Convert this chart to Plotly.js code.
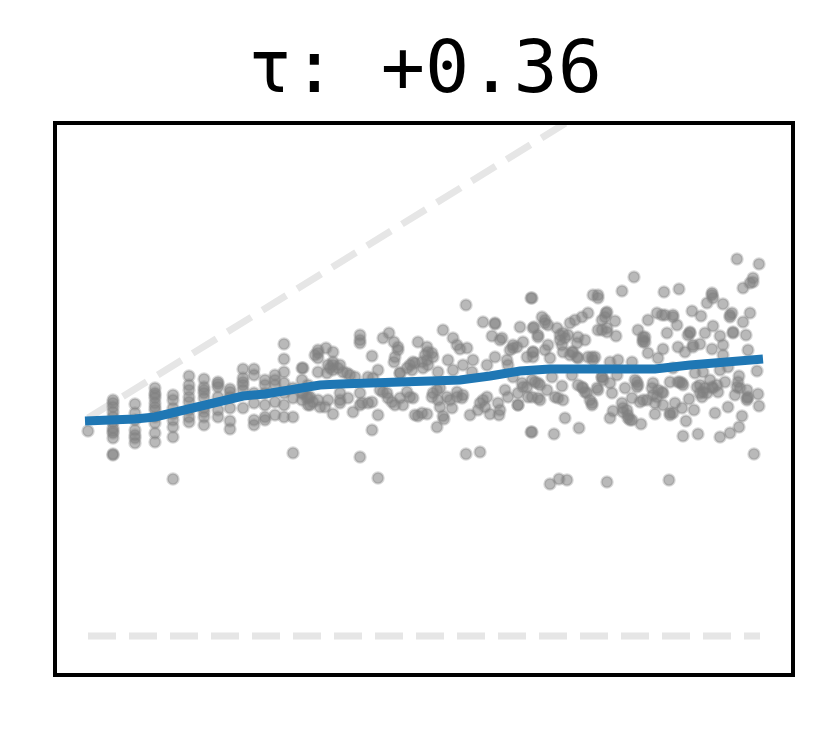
<!DOCTYPE html>
<html><head><meta charset="utf-8">
<script src="https://cdn.plot.ly/plotly-3.0.1.min.js"></script>
<style>html,body{margin:0;padding:0;background:#fff}</style></head>
<body><div id="c" style="width:830px;height:731px"></div>
<script>
const titleText = "τ: +0.36";
const pointPairs = [
[0,205],
[25,236],[25,229],[25,224],[25,219],[25,208],[25,203],[25,198],[25,181],[25,182],[25,233],[25,214],[25,205],
[47,232],[47,223],[47,216],[47,206],[47,201],[47,193],[47,198],
[67,248],[67,243],[67,238],[67,233],[67,226],[67,219],[67,213],[67,203],[67,194],[67,241],[67,229],
[85,241],[85,236],[85,228],[85,216],[85,209],[85,199],[85,157],[85,222],
[101,260],[101,251],[101,246],[101,239],[101,234],[101,226],[101,219],[101,214],
[116,257],[116,249],[116,243],[116,238],[116,228],[116,219],[116,211],[116,224],[116,246],
[130,254],[130,249],[130,239],[130,226],[130,219],[130,252],
[142,244],[142,239],[142,228],[142,215],[142,207],[142,247],
[155,267],[155,258],[155,251],[155,246],[155,228],[155,254],
[166,267],[166,261],[166,243],[166,233],[166,216],[166,211],
[177,256],[177,251],[177,243],[177,231],[177,219],[177,216],
[187,261],[187,256],[187,251],[187,234],[187,221],
[196,292],[196,277],[196,264],[196,253],[196,243],[196,231],[196,219],
[205,248],[205,238],[205,219],[205,183],
[214,268],[214,256],[214,243],[214,236],[220,251],[220,239],[220,231],
[215,268],[222,239],[222,231],[230,283],[230,278],[238,288],[245,284],[230,264],[240,271],[245,271],[252,271],[245,266],[239,263],[259,263],[262,261],[267,259],[230,236],[232,229],[240,236],[252,243],[252,233],[260,238],[245,222],[265,224],[272,296],[272,243],[274,233],[272,179],[284,280],[280,259],[284,234],[290,266],[290,221],[284,206],[290,158],[295,298],[301,303],[306,294],[310,286],[306,274],[312,263],[322,271],[325,274],[324,266],[295,244],[300,238],[307,231],[315,231],[319,244],[325,238],[330,294],[339,289],[344,283],[339,276],[335,268],[330,220],[339,222],[349,209],[356,217],[355,306],[365,298],[369,291],[372,287],[379,288],[360,276],[350,264],[365,266],[375,271],[385,276],[384,264],[345,243],[350,236],[352,229],[364,228],[359,239],[369,239],[375,241],[382,221],[390,226],[395,236],[402,222],[411,221],[410,233],[378,331],[378,182],[392,184],[395,314],[407,312],[404,300],[414,298],[407,279],[399,271],[419,276],[425,288],[435,294],[432,309],[445,308],[450,301],[439,279],[445,284],[425,259],[417,246],[420,239],[430,231],[435,249],[430,243],[440,239],[443,204],[443,338],[450,238],
[444,338],[446,309],[450,299],[457,316],[460,311],[469,308],[475,303],[472,296],[480,301],[482,313],[487,316],[494,319],[500,323],[490,299],[497,296],[489,293],[460,291],[457,286],[445,284],[462,278],[475,284],[484,284],[490,278],[504,279],[505,341],[510,338],[518,323],[527,315],[514,316],[510,306],[519,304],[528,300],[534,345],[546,359],[576,344],[591,347],[560,316],[569,323],[577,321],[585,321],[589,311],[550,306],[557,299],[555,294],[579,303],[560,283],[575,287],[570,278],[590,289],[597,284],[605,291],[612,292],[602,304],[600,301],[617,303],[625,310],[632,300],[645,303],[642,321],[635,332],[624,343],[625,338],[619,333],[604,325],[613,320],[655,314],[662,323],[649,377],[671,372],[655,348],[665,354],[658,301],[660,286],[624,287],[635,291],[635,281],[522,274],[530,276],[544,274],[585,268],[632,266],[640,269],[669,265],
[444,256],[450,253],[464,259],[484,261],[514,259],[529,261],[444,239],[452,236],[459,246],[467,239],[475,236],[474,250],[490,251],[495,248],[499,243],[504,233],[510,246],[524,243],[522,253],[537,248],[547,256],[550,251],[544,238],[552,234],[559,236],[565,253],[565,241],[574,244],[567,233],[575,231],[534,233],[525,225],[522,218],[535,224],[540,218],[544,216],[553,212],[567,222],[582,223],[587,233],[594,228],[601,237],[606,226],[598,215],[582,254],[592,254],[595,251],[607,263],[615,264],[609,249],[615,244],[614,239],[622,256],[625,248],[630,244],[637,254],[627,223],[640,229],[654,220],[651,209],[642,203],[632,199],[610,202],[595,200],[651,260],[649,249],[647,241],[659,246],[659,238],[670,242],[671,230],[666,182],[477,218],[491,208],[466,202],[444,204],[462,152],[471,157],[479,156],[519,154],[581,156],
[227,281],[230,286],[245,274],[242,268],[250,268],[255,264],[219,238],[225,234],[215,243],[237,229],[252,236],[280,233],[272,231],[285,258],[292,246],[299,243],[304,234],[312,238],[322,239],[327,273],[334,274],[340,284],[345,279],[337,281],[340,271],[319,268],[312,263],[307,279],[310,289],[272,301],[272,293],[327,221],[334,223],[349,246],[344,239],[352,248],[369,244],[374,238],[362,236],[355,220],[392,233],[399,239],[397,229],[412,226],[425,291],[422,286],[429,289],[412,296],[407,313],[439,249],[434,253],[430,231],[445,279],[420,271],
[454,319],[457,313],[472,301],[477,298],[474,291],[485,284],[489,279],[482,281],[500,279],[507,279],[505,276],[514,259],[515,256],[509,248],[502,236],[504,231],[494,249],[497,244],[470,238],[452,251],[447,254],[510,341],[519,324],[517,319],[519,308],[514,306],[555,299],[557,294],[539,226],[535,228],[540,221],[542,216],[549,254],[549,249],[564,248],[570,246],[575,243],[569,239],[555,236],[582,221],[585,223],[590,254],[594,253],[612,251],[617,248],[619,243],[612,243],[624,249],[629,251],[650,254],[652,248],[660,239],[659,236],[602,303],[605,289],[644,323],[642,319],[645,304],[624,341],[665,358],[662,353],[585,319],[574,321],[555,296]
];
const pointsX = pointPairs.map(p => p[0]);
const pointsY = pointPairs.map(p => p[1]);
const trendX = [-3,25,47,67,84,101,116,130,142,155,177,196,212,232,252,292,332,372,402,432,462,512,542,567,602,642,675];
const trendY = [215,215,217,219,223,228,231,234,237,240,242,245,248,251,252,253,255,256,260,265,267,268,267,267,271,275,277];
const upperRefX = [0,672];
const upperRefY = [218,633];
const lowerRefX = [0,672];
const lowerRefY = [0,0];
const refStyle = {color:'#e6e6e6',width:7,dash:'28px,13px'};
const traces = [
 {x:upperRefX,y:upperRefY,mode:'lines',line:refStyle,hoverinfo:'skip'},
 {x:lowerRefX,y:lowerRefY,mode:'lines',line:refStyle,hoverinfo:'skip'},
 {x:pointsX,y:pointsY,mode:'markers',hoverinfo:'skip',
  marker:{size:11,color:'rgba(128,128,128,0.55)',line:{width:2.5,color:'rgba(128,128,128,0.3)'}}},
 {x:trendX,y:trendY,mode:'lines',line:{color:'#1f77b4',width:9},hoverinfo:'skip'}
];
const axis = {showgrid:false,zeroline:false,showticklabels:false,ticks:'',showline:true,mirror:true,linecolor:'#000',linewidth:4};
const layout = {
 width:830,height:731,showlegend:false,paper_bgcolor:'#fff',plot_bgcolor:'#fff',
 margin:{l:57,r:39,t:125,b:58},
 title:{text:titleText,font:{family:'DejaVu Sans Mono',size:73.5,color:'#000'},x:0.512,xanchor:'center',y:0.91,yanchor:'middle',xref:'container',yref:'container'},
 xaxis:Object.assign({range:[-31,703]},axis),
 yaxis:Object.assign({range:[-37,511]},axis)
};
Plotly.newPlot('c',traces,layout,{displayModeBar:false,staticPlot:true});
</script></body></html>
